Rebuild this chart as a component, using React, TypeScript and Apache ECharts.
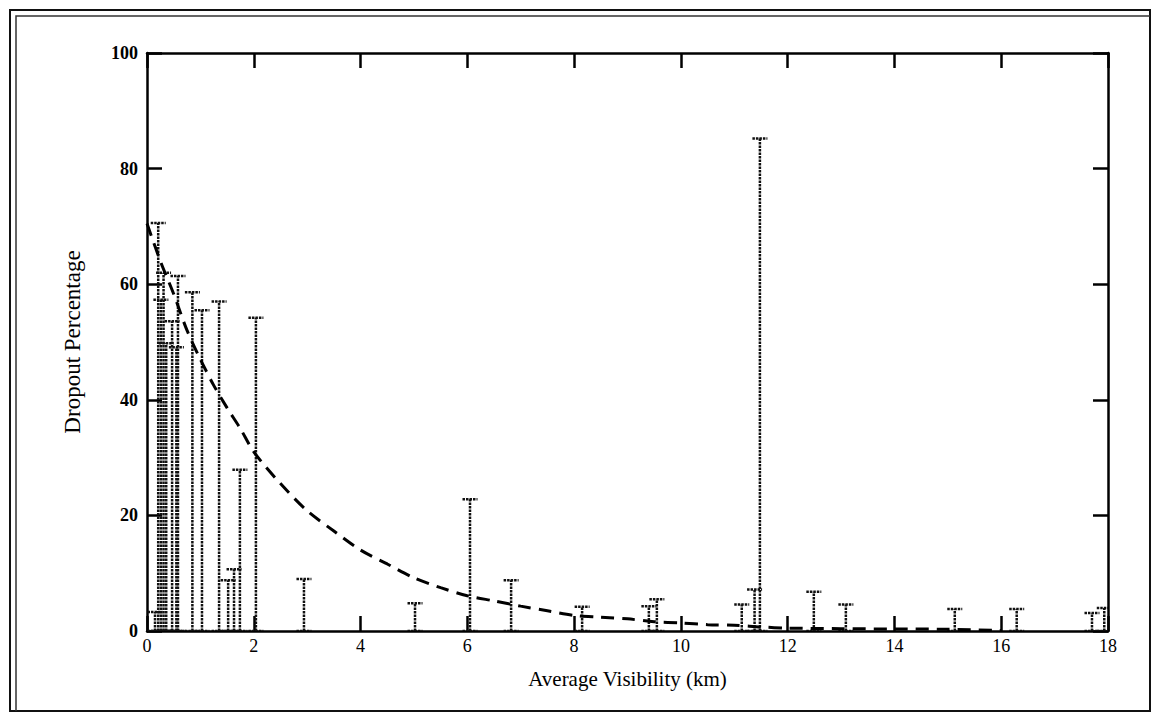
import React, { useEffect, useRef } from "react";
import * as echarts from "echarts";

// Error bars: x position, low and top value
const barX = [0.15, 0.21, 0.26, 0.31, 0.36, 0.47, 0.55, 0.58, 0.85, 1.03, 1.35, 1.52, 1.63, 1.74, 2.04, 2.94, 5.02, 6.05, 6.82, 8.15, 9.4, 9.55, 11.14, 11.38, 11.48, 12.49, 13.09, 15.13, 16.29, 17.7, 17.93];
const barLow = [0, 0, 0, 0, 0, 0, 0, 0, 0, 0, 0, 0, 0, 0, 0, 0, 0, 0, 0, 0, 0, 0, 0, 0, 0, 0, 0, 0, 0, 0, 0];
const barHigh = [3.3, 70.6, 57.3, 62.0, 49.8, 53.6, 49.1, 61.4, 58.6, 55.5, 57.0, 8.8, 10.7, 27.9, 54.2, 9.0, 4.8, 22.8, 8.8, 4.2, 4.3, 5.5, 4.6, 7.2, 85.2, 6.8, 4.6, 3.8, 3.8, 3.1, 4.0];

// Fitted dashed curve
const curveX = [0, 0.25, 0.5, 0.75, 1, 1.25, 1.5, 1.75, 2, 2.5, 3, 3.5, 4, 4.5, 5, 5.5, 6, 6.5, 7, 7.5, 8, 8.5, 9, 9.5, 10, 10.5, 11, 11.5, 12, 13, 14, 15, 16];
const curveY = [70.5, 64, 58.3, 52, 47, 42.5, 38.6, 35, 31, 25.5, 20.8, 17.3, 14, 11.6, 9.2, 7.5, 6.1, 5.2, 4.3, 3.5, 2.7, 2.4, 2.1, 1.6, 1.4, 1.1, 1.0, 0.7, 0.5, 0.4, 0.35, 0.3, 0.1];

// Axes
const xMin = 0;
const xMax = 18;
const xStep = 2;
const yMin = 0;
const yMax = 100;
const yStep = 20;
const xTitle = "Average Visibility (km)";
const yTitle = "Dropout Percentage";

const FONT = "'Liberation Serif', 'DejaVu Serif', serif";

export default function App() {
  const ref = useRef<HTMLDivElement>(null);

  useEffect(() => {
    if (!ref.current) return;
    const chart = echarts.init(ref.current, null, { renderer: "svg" });
    const lineCol = "#000";
    const barStyle = { stroke: "#111", lineWidth: 2.5, lineDash: [2.5, 1] };

    const axisX = (pos: "bottom" | "top", labels: boolean) => ({
      type: "value",
      position: pos,
      min: xMin,
      max: xMax,
      interval: xStep,
      name: labels ? xTitle : "",
      nameLocation: "middle",
      nameGap: 37,
      nameTextStyle: { fontFamily: FONT, fontSize: 21, color: "#000" },
      axisLine: { show: true, onZero: false, lineStyle: { color: lineCol, width: 2.5 } },
      axisTick: { show: true, inside: true, length: 15, lineStyle: { color: lineCol, width: 2.5 } },
      axisLabel: { show: labels, fontFamily: FONT, fontSize: 18, color: "#000", margin: 6 },
      splitLine: { show: false },
    });
    const axisY = (pos: "left" | "right", labels: boolean) => ({
      type: "value",
      position: pos,
      min: yMin,
      max: yMax,
      interval: yStep,
      name: labels ? yTitle : "",
      nameLocation: "middle",
      nameGap: 63,
      nameRotate: 90,
      nameTextStyle: { fontFamily: FONT, fontSize: 23, color: "#000" },
      axisLine: { show: true, onZero: false, lineStyle: { color: lineCol, width: 2.5 } },
      axisTick: { show: true, inside: true, length: 15, lineStyle: { color: lineCol, width: 2.5 } },
      axisLabel: { show: labels, fontFamily: FONT, fontSize: 18, fontWeight: "bold", color: "#000", margin: 9 },
      splitLine: { show: false },
    });

    chart.setOption({
      animation: false,
      backgroundColor: "#fff",
      grid: { left: 147, right: 45, top: 53, bottom: 83 },
      xAxis: [axisX("bottom", true), axisX("top", false)],
      yAxis: [axisY("left", true), axisY("right", false)],
      graphic: [
        {
          type: "rect",
          shape: { x: 10, y: 10, width: 1140, height: 701 },
          style: { fill: "none", stroke: "#111", lineWidth: 2 },
          silent: true,
        },
        {
          type: "polyline",
          shape: { points: [[16, 711], [16, 16], [1150, 16]] },
          style: { fill: "none", stroke: "#333", lineWidth: 1.5 },
          silent: true,
        },
      ],
      series: [
        {
          type: "custom",
          xAxisIndex: 0,
          yAxisIndex: 0,
          clip: true,
          data: barX.map((x, i) => [x, barLow[i], barHigh[i]]),
          encode: { x: 0, y: [1, 2] },
          renderItem: (params: any, api: any) => {
            const x = api.value(0);
            const lo = api.coord([x, api.value(1)]);
            const hi = api.coord([x, api.value(2)]);
            return {
              type: "group",
              children: [
                { type: "line", shape: { x1: lo[0], y1: lo[1], x2: hi[0], y2: hi[1] }, style: barStyle },
                { type: "line", shape: { x1: hi[0] - 7.5, y1: hi[1], x2: hi[0] + 7.5, y2: hi[1] }, style: barStyle },
                { type: "line", shape: { x1: lo[0] - 7.5, y1: lo[1], x2: lo[0] + 7.5, y2: lo[1] }, style: barStyle },
              ],
            };
          },
          z: 2,
        },
        {
          type: "line",
          xAxisIndex: 0,
          yAxisIndex: 0,
          data: curveX.map((x, i) => [x, curveY[i]]),
          showSymbol: false,
          smooth: 0.3,
          lineStyle: { color: "#000", width: 3, type: [13, 8] },
          z: 3,
        },
      ],
    });
    return () => chart.dispose();
  }, []);

  return (
    <div
      ref={ref}
      style={{ position: "fixed", left: 0, top: 0, width: 1153, height: 714, background: "#fff" }}
    />
  );
}
